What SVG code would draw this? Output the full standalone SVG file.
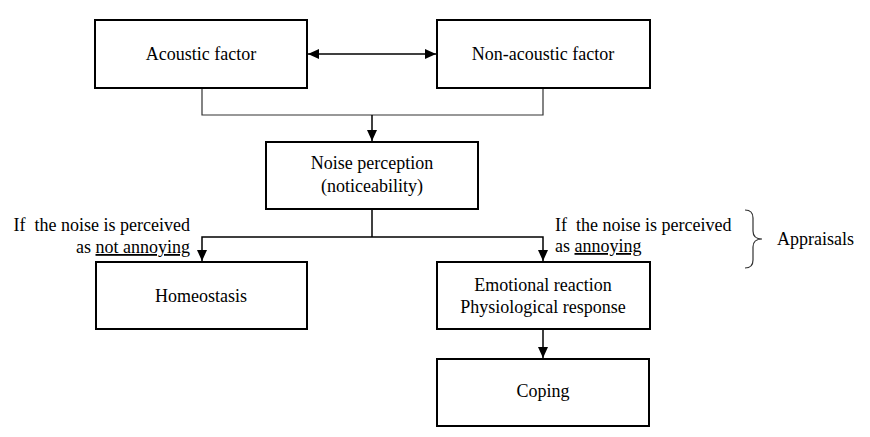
<svg xmlns="http://www.w3.org/2000/svg" width="870" height="437" viewBox="0 0 870 437">
<defs>
<marker id="ah" markerUnits="userSpaceOnUse" markerWidth="12" markerHeight="10" refX="11" refY="5" orient="auto-start-reverse">
<path d="M0,0 L11,5 L0,10 Z" fill="#000"/>
</marker>
</defs>
<style>
.box{fill:#fff;stroke:#000;stroke-width:2}
.t{font-size:18px;fill:#000}
.c{text-anchor:middle}
.thin{fill:none;stroke:#333;stroke-width:1.2}
.con{fill:none;stroke:#000;stroke-width:1.5}
</style>
<rect width="870" height="437" fill="#fff"/>
<g id="connectors">
<line class="con" x1="308" y1="54" x2="436" y2="54" marker-start="url(#ah)" marker-end="url(#ah)"/>
<polyline class="thin" points="202,88 202,115 543,115 543,88"/>
<line class="con" x1="372" y1="115" x2="372" y2="141" marker-end="url(#ah)"/>
<line class="con" x1="372" y1="209" x2="372" y2="237"/>
<polyline class="con" points="202,261 202,237 543,237 543,261" marker-end="url(#ah)" marker-start="url(#ah)"/>
<line class="con" x1="543" y1="330" x2="543" y2="358" marker-end="url(#ah)"/>
</g>
<g font-family="Liberation Serif, serif">
<g id="acoustic">
<rect class="box" x="95" y="20" width="212" height="68"/>
<text class="t c" x="201" y="60">Acoustic factor</text>
</g>
<g id="nonacoustic">
<rect class="box" x="437" y="20" width="213" height="68"/>
<text class="t c" x="543" y="60">Non-acoustic factor</text>
</g>
<g id="perception">
<rect class="box" x="266" y="142" width="212" height="67"/>
<text class="t c" x="372" y="169">Noise perception</text>
<text class="t c" x="372" y="192">(noticeability)</text>
</g>
<g id="homeostasis">
<rect class="box" x="96" y="262" width="211" height="67"/>
<text class="t c" x="201" y="302">Homeostasis</text>
</g>
<g id="emotional">
<rect class="box" x="437" y="262" width="213" height="67"/>
<text class="t c" x="543" y="291">Emotional reaction</text>
<text class="t c" x="543" y="313">Physiological response</text>
</g>
<g id="coping">
<rect class="box" x="437" y="359" width="212" height="67"/>
<text class="t c" x="543" y="397">Coping</text>
</g>
<g id="labels">
<text class="t" x="190" y="231" text-anchor="end" xml:space="preserve">If  the noise is perceived</text>
<text class="t" x="190" y="253" text-anchor="end">as <tspan text-decoration="underline">not annoying</tspan></text>
<text class="t" x="555" y="231" xml:space="preserve">If  the noise is perceived</text>
<text class="t" x="555" y="252">as <tspan text-decoration="underline">annoying</tspan></text>
</g>
<g id="appraisals">
<path class="thin" d="M745,210 Q753,210 753,218 L753,231 Q753,239 762,239 Q753,239 753,247 L753,260 Q753,268 745,268"/>
<text class="t" x="777" y="245">Appraisals</text>
</g>
</g>
</svg>
